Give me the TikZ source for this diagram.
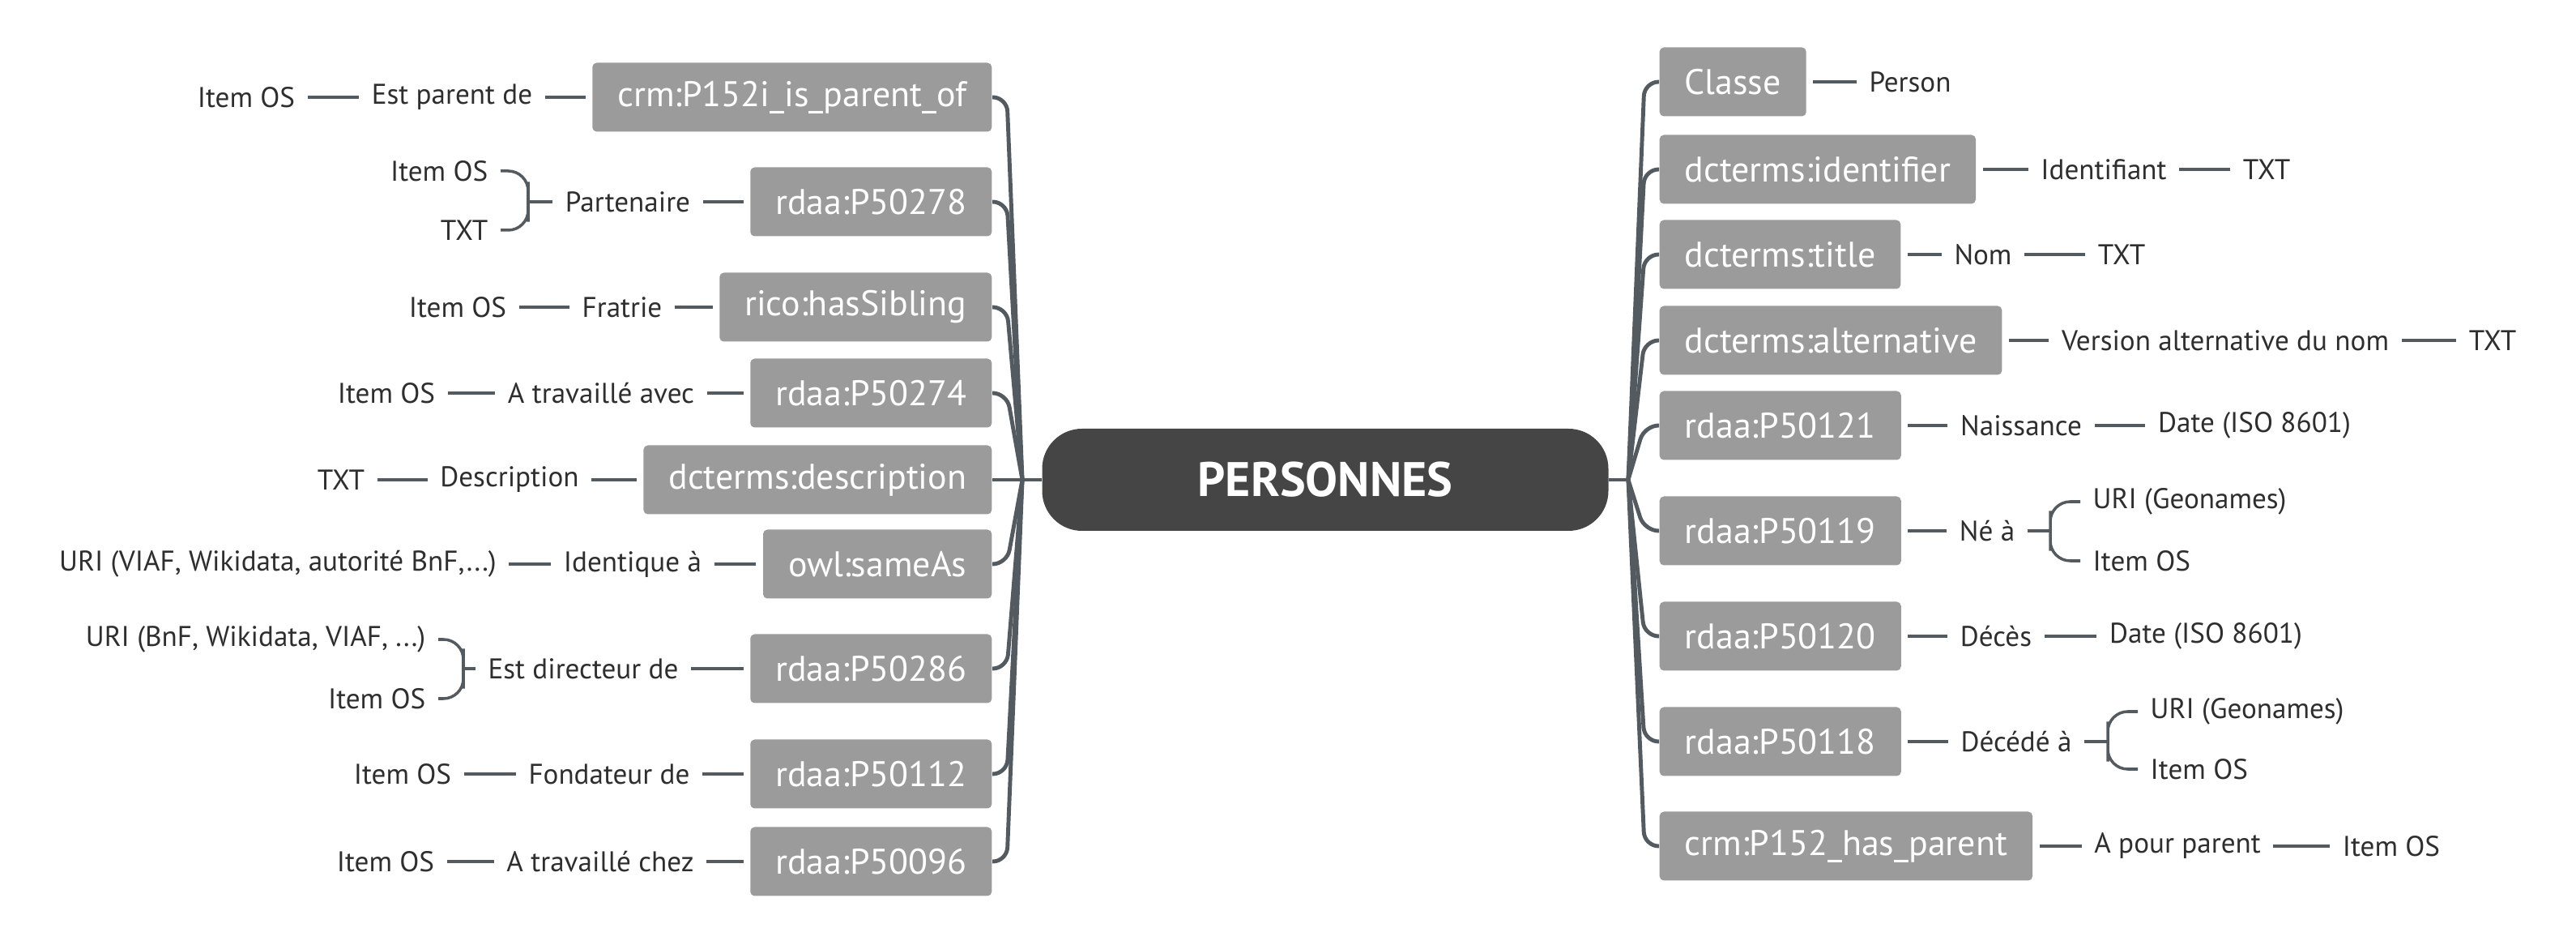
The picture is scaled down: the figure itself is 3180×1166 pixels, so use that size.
\documentclass[tikz,border=0pt]{standalone}
\usepackage{fontspec}
\setmainfont{PT Sans}
\definecolor{boxgray}{HTML}{9B9B9B}
\definecolor{coregray}{HTML}{454545}
\definecolor{linegray}{HTML}{535B61}
\definecolor{leafink}{HTML}{2E2E2E}

\begin{document}
\begin{tikzpicture}[x=0.1mm, y=-0.1mm,
		core/.style={fill=coregray, text=white, rounded corners=14pt, minimum width=69.9mm, minimum height=12.6mm, font=\fontsize{17}{20}\selectfont\bfseries},
		prop/.style={fill=boxgray, text=white, rounded corners=1.5pt, minimum height=8.5mm, inner xsep=3.1mm, font=\fontsize{12.5}{15}\selectfont},
		leaf/.style={text=leafink, inner xsep=1.5mm, inner ysep=1mm, font=\fontsize{10}{12}\selectfont},
		trunk/.style={draw=linegray, line width=1.4pt, rounded corners=5pt},
		link/.style={draw=linegray, line width=1pt}]
	\useasboundingbox (0,0) rectangle (3180,1166);

	\node[core] (hub) at (1636,592) {PERSONNES};
	\coordinate (jl) at (1262,592);
	\coordinate (tl) at (1243,592);
	\coordinate (jr) at (2010,592);
	\coordinate (tr) at (2030,592);

	\node[prop, anchor=east] (pl1) at (1225,120) {crm:P152i\_is\_parent\_of};
	\node[prop, anchor=east] (pl2) at (1225,249) {rdaa:P50278};
	\node[prop, anchor=east] (pl3) at (1225,379) {rico:hasSibling};
	\node[prop, anchor=east] (pl4) at (1225,485) {rdaa:P50274};
	\node[prop, anchor=east] (pl5) at (1225,592) {dcterms:description};
	\node[prop, anchor=east] (pl6) at (1225,696) {owl:sameAs};
	\node[prop, anchor=east] (pl7) at (1225,825) {rdaa:P50286};
	\node[prop, anchor=east] (pl8) at (1225,955) {rdaa:P50112};
	\node[prop, anchor=east] (pl9) at (1225,1063) {rdaa:P50096};

	\node[prop, anchor=west] (pr1) at (2048,101) {Classe};
	\node[prop, anchor=west] (pr2) at (2048,209) {dcterms:identifier};
	\node[prop, anchor=west] (pr3) at (2048,314) {dcterms:title};
	\node[prop, anchor=west] (pr4) at (2048,420) {dcterms:alternative};
	\node[prop, anchor=west] (pr5) at (2048,525) {rdaa:P50121};
	\node[prop, anchor=west] (pr6) at (2048,655) {rdaa:P50119};
	\node[prop, anchor=west] (pr7) at (2048,785) {rdaa:P50120};
	\node[prop, anchor=west] (pr8) at (2048,915) {rdaa:P50118};
	\node[prop, anchor=west] (pr9) at (2048,1044) {crm:P152\_has\_parent};

	\node[leaf] (el1) at (558,120) {Est parent de};
	\node[leaf] (fl1) at (304,120) {Item OS};
	\node[leaf] (el2) at (775,249) {Partenaire};
	\node[leaf, anchor=east] (fl2a) at (618,211) {Item OS};
	\node[leaf, anchor=east] (fl2b) at (618,284) {TXT};
	\coordinate (bl2) at (652,249);
	\node[leaf] (el3) at (768,379) {Fratrie};
	\node[leaf] (fl3) at (565,379) {Item OS};
	\node[leaf] (el4) at (742,485) {A travaillé avec};
	\node[leaf] (fl4) at (477,485) {Item OS};
	\node[leaf] (el5) at (629,592) {Description};
	\node[leaf] (fl5) at (421,592) {TXT};
	\node[leaf] (el6) at (781,696) {Identique à};
	\node[leaf] (fl6) at (343,696) {URI (VIAF, Wikidata, autorité BnF,...)};
	\node[leaf] (el7) at (720,825) {Est directeur de};
	\node[leaf, anchor=east] (fl7a) at (541,789) {URI (BnF, Wikidata, VIAF, ...)};
	\node[leaf, anchor=east] (fl7b) at (541,862) {Item OS};
	\coordinate (bl7) at (572,825);
	\node[leaf] (el8) at (752,955) {Fondateur de};
	\node[leaf] (fl8) at (497,955) {Item OS};
	\node[leaf] (el9) at (741,1063) {A travaillé chez};
	\node[leaf] (fl9) at (476,1063) {Item OS};

	\node[leaf] (er1) at (2358,101) {Person};
	\node[leaf] (er2) at (2597,209) {Identifiant};
	\node[leaf] (fr2) at (2798,209) {TXT};
	\node[leaf] (er3) at (2448,314) {Nom};
	\node[leaf] (fr3) at (2619,314) {TXT};
	\node[leaf] (er4) at (2747,420) {Version alternative du nom};
	\node[leaf] (fr4) at (3077,420) {TXT};
	\node[leaf] (er5) at (2495,525) {Naissance};
	\node[leaf] (fr5) at (2783,525) {Date (ISO 8601)};
	\node[leaf] (er6) at (2453,655) {Né à};
	\node[leaf, anchor=west] (fr6a) at (2568,619) {URI (Geonames)};
	\node[leaf, anchor=west] (fr6b) at (2568,692) {Item OS};
	\coordinate (br6) at (2531,655);
	\node[leaf] (er7) at (2464,785) {Décès};
	\node[leaf] (fr7) at (2723,785) {Date (ISO 8601)};
	\node[leaf] (er8) at (2489,915) {Décédé à};
	\node[leaf, anchor=west] (fr8a) at (2639,878) {URI (Geonames)};
	\node[leaf, anchor=west] (fr8b) at (2639,949) {Item OS};
	\coordinate (br8) at (2602,915);
	\node[leaf] (er9) at (2688,1044) {A pour parent};
	\node[leaf] (fr9) at (2952,1044) {Item OS};

	\draw[trunk] (hub) -- (jl);
	\draw[trunk] (hub) -- (jr);
	\foreach \b in {pl1,pl2,pl3,pl4,pl5,pl6,pl7,pl8,pl9}
		\draw[trunk] (jl) -- (tl |- \b.east) -- (\b.east);
	\foreach \b in {pr1,pr2,pr3,pr4,pr5,pr6,pr7,pr8,pr9}
		\draw[trunk] (jr) -- (tr |- \b.west) -- (\b.west);

	\draw[link, shorten <=0.8mm] (pl1) -- (el1);
	\draw[link] (el1) -- (fl1);
	\draw[link, shorten <=0.8mm] (pl2) -- (el2);
	\draw[link] (el2) -- (bl2);
	\draw[link, rounded corners=7pt] (fl2a) -| (bl2) |- (fl2b);
	\draw[link, shorten <=0.8mm] (pl3) -- (el3);
	\draw[link] (el3) -- (fl3);
	\draw[link, shorten <=0.8mm] (pl4) -- (el4);
	\draw[link] (el4) -- (fl4);
	\draw[link, shorten <=0.8mm] (pl5) -- (el5);
	\draw[link] (el5) -- (fl5);
	\draw[link, shorten <=0.8mm] (pl6) -- (el6);
	\draw[link] (el6) -- (fl6);
	\draw[link, shorten <=0.8mm] (pl7) -- (el7);
	\draw[link] (el7) -- (bl7);
	\draw[link, rounded corners=7pt] (fl7a) -| (bl7) |- (fl7b);
	\draw[link, shorten <=0.8mm] (pl8) -- (el8);
	\draw[link] (el8) -- (fl8);
	\draw[link, shorten <=0.8mm] (pl9) -- (el9);
	\draw[link] (el9) -- (fl9);

	\draw[link, shorten <=0.8mm] (pr1) -- (er1);
	\draw[link, shorten <=0.8mm] (pr2) -- (er2);
	\draw[link] (er2) -- (fr2);
	\draw[link, shorten <=0.8mm] (pr3) -- (er3);
	\draw[link] (er3) -- (fr3);
	\draw[link, shorten <=0.8mm] (pr4) -- (er4);
	\draw[link] (er4) -- (fr4);
	\draw[link, shorten <=0.8mm] (pr5) -- (er5);
	\draw[link] (er5) -- (fr5);
	\draw[link, shorten <=0.8mm] (pr6) -- (er6);
	\draw[link] (er6) -- (br6);
	\draw[link, rounded corners=7pt] (fr6a) -| (br6) |- (fr6b);
	\draw[link, shorten <=0.8mm] (pr7) -- (er7);
	\draw[link] (er7) -- (fr7);
	\draw[link, shorten <=0.8mm] (pr8) -- (er8);
	\draw[link] (er8) -- (br8);
	\draw[link, rounded corners=7pt] (fr8a) -| (br8) |- (fr8b);
	\draw[link, shorten <=0.8mm] (pr9) -- (er9);
	\draw[link] (er9) -- (fr9);
\end{tikzpicture}
\end{document}
